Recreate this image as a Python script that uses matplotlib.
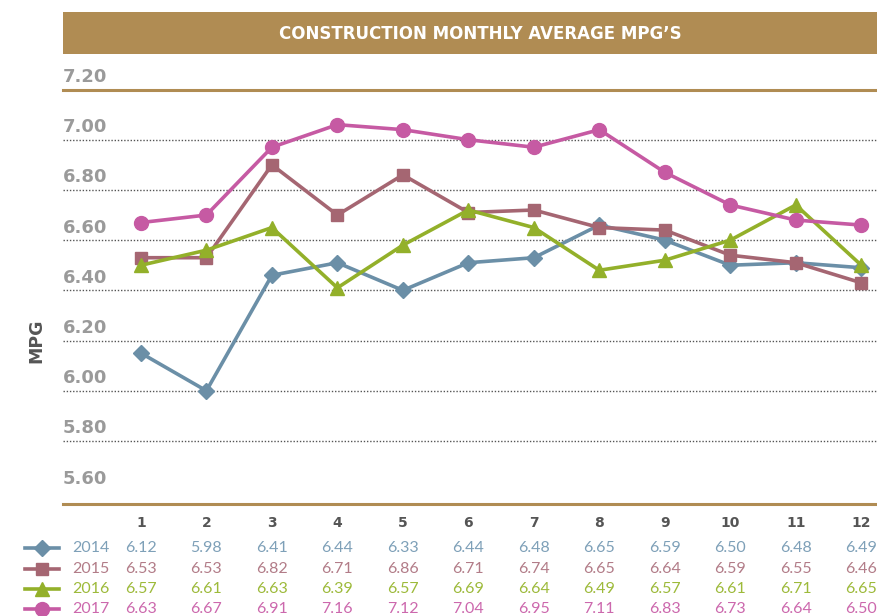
import matplotlib.pyplot as plt
from matplotlib.patches import Rectangle

# Données
months = list(range(1, 13))
month_labels = [str(m) for m in months]
years = ['2014', '2015', '2016', '2017']

# valeurs tracées (position des marqueurs)
mpg_2014 = [6.15, 6.00, 6.46, 6.51, 6.40, 6.51, 6.53, 6.66, 6.60, 6.50, 6.51, 6.49]
mpg_2015 = [6.53, 6.53, 6.90, 6.70, 6.86, 6.71, 6.72, 6.65, 6.64, 6.54, 6.51, 6.43]
mpg_2016 = [6.50, 6.56, 6.65, 6.41, 6.58, 6.72, 6.65, 6.48, 6.52, 6.60, 6.74, 6.50]
mpg_2017 = [6.67, 6.70, 6.97, 7.06, 7.04, 7.00, 6.97, 7.04, 6.87, 6.74, 6.68, 6.66]

# valeurs imprimées dans le tableau sous le graphique
table_2014 = ['6.12', '5.98', '6.41', '6.44', '6.33', '6.44', '6.48', '6.65', '6.59', '6.50', '6.48', '6.49']
table_2015 = ['6.53', '6.53', '6.82', '6.71', '6.86', '6.71', '6.74', '6.65', '6.64', '6.59', '6.55', '6.46']
table_2016 = ['6.57', '6.61', '6.63', '6.39', '6.57', '6.69', '6.64', '6.49', '6.57', '6.61', '6.71', '6.65']
table_2017 = ['6.63', '6.67', '6.91', '7.16', '7.12', '7.04', '6.95', '7.11', '6.83', '6.73', '6.64', '6.50']

y_labels = [7.20, 7.00, 6.80, 6.60, 6.40, 6.20, 6.00, 5.80, 5.60]
grid_values = [7.00, 6.80, 6.60, 6.40, 6.20, 6.00, 5.80]

colors = ['#6b8fa7', '#a56672', '#93b02a', '#c65aa3']
text_colors = ['#7ea0b8', '#b27c88', '#9dba3a', '#cc68ad']
markers = ['D', 's', '^', 'o']
msizes = [8, 9, 10, 10]
brown = '#b08c53'


def main():
    fig = plt.figure(figsize=(8.77, 6.16), dpi=100)

    # calque en pixels pour le bandeau et la légende
    bg = fig.add_axes([0, 0, 1, 1])
    bg.set_xlim(0, 877)
    bg.set_ylim(616, 0)
    bg.axis('off')
    bg.add_patch(Rectangle((63, 12), 830, 42, color=brown, lw=0))
    bg.text(480, 34, "CONSTRUCTION MONTHLY AVERAGE MPG\u2019S", color='white',
            fontsize=12, fontweight='bold', ha='center', va='center')
    bg.text(36, 341, 'MPG', rotation=90, fontsize=12.5, fontweight='bold',
            color='#555555', ha='center', va='center')

    # axe principal
    ax = fig.add_axes([63 / 877, (616 - 504) / 616, 1 - 63 / 877, (504 - 89.5) / 616])
    ax.patch.set_alpha(0)
    ax.set_xlim(-0.19, 12.24)
    ax.set_ylim(5.549, 7.20)

    for v in grid_values:
        ax.axhline(v, color='#555555', lw=1, linestyle=(0, (1, 1.3)), zorder=1)

    series = [mpg_2014, mpg_2015, mpg_2016, mpg_2017]
    for vals, c, m, ms in zip(series, colors, markers, msizes):
        ax.plot(months, vals, color=c, lw=2.6, marker=m, markersize=ms, zorder=3)

    for v in y_labels:
        ax.annotate(f"{v:.2f}", xy=(0, v), xycoords=('axes fraction', 'data'),
                    xytext=(0, 9), textcoords='offset points', ha='left', va='center',
                    fontsize=13, fontweight='bold', color='#9a9a9a', annotation_clip=False)

    for s in ['left', 'right']:
        ax.spines[s].set_visible(False)
    ax.spines['top'].set_color(brown)
    ax.spines['top'].set_linewidth(2.2)
    ax.spines['bottom'].set_color(brown)
    ax.spines['bottom'].set_linewidth(2.2)
    ax.set_yticks([])
    ax.set_xticks(months)
    ax.set_xticklabels(month_labels, fontsize=10, fontweight='bold', color='#555555')
    ax.tick_params(axis='x', length=0, pad=8.5)

    # tableau des valeurs
    tables = [table_2014, table_2015, table_2016, table_2017]
    row_y = [548, 569, 589, 609]
    for yr, tab, c, tc, m, ms, y in zip(years, tables, colors, text_colors, markers, msizes, row_y):
        bg.plot([25, 59], [y, y], color=c, lw=2.6, zorder=3)
        bg.plot([42], [y], color=c, marker=m, markersize=ms, zorder=4)
        bg.text(72, y, yr, color=tc, fontsize=11.5, family='Lato', ha='left', va='center')
        for mo, t in zip(months, tab):
            ax.annotate(t, xy=(mo, 616 - y), xycoords=('data', 'figure pixels'),
                        ha='center', va='center', fontsize=11.5, family='Lato',
                        color=tc, annotation_clip=False)

    fig.savefig('out.png', dpi=100)


if __name__ == '__main__':
    main()
